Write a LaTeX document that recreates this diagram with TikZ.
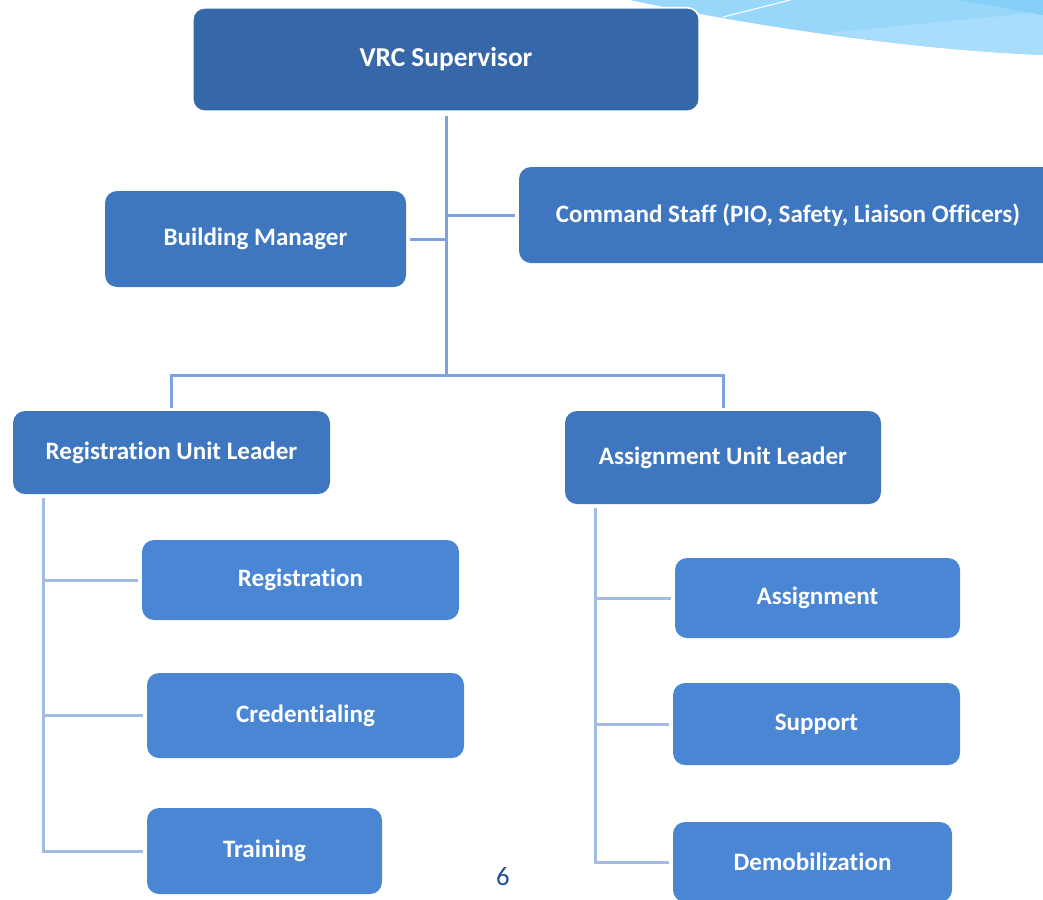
\documentclass[tikz,border=0pt]{standalone}
\usepackage{fontspec}
\setmainfont{Carlito}[Ligatures=NoCommon]
\usetikzlibrary{calc}
\definecolor{dk}{HTML}{3567A9}
\definecolor{md}{HTML}{3E76BF}
\definecolor{lt}{HTML}{4A86D4}
\definecolor{ln}{HTML}{7EA2DD}
\definecolor{lnl}{HTML}{A3BCE6}
\definecolor{sky}{HTML}{98D7FA}
\definecolor{skyl}{HTML}{A8DDFB}
\definecolor{skyd}{HTML}{84CFF8}
\definecolor{pn}{HTML}{1F4E9A}
\newcommand\bx[7]{%
  \node[box, fill=#7, minimum width={(#4-#2)*0.75pt}, minimum height={(#5-#3)*0.75pt}]
    (#1) at ({(#2+#4)/2},{(#3+#5)/2}) {#6};}
\begin{document}
\begin{tikzpicture}[x=0.75pt,y=-0.75pt,
  box/.style={rectangle, rounded corners=9pt, text=white, inner sep=0pt,
    font=\bfseries\fontsize{18.8}{22}\selectfont},
  conn/.style={draw=ln, line width=2.25pt},
  connl/.style={draw=lnl, line width=2.25pt}]
\useasboundingbox (0,0) rectangle (1043,900);
% decoration
\fill[sky] (630,0) .. controls (760,28) and (920,50) .. (1043,55) -- (1043,0) -- cycle;
\fill[skyl] (827,33) -- (1043,12) -- (1043,55) .. controls (960,51) and (890,44) .. cycle;
\fill[skyd] (960,0) -- (1043,0) -- (1043,15) -- cycle;
\draw[white, line width=0.8pt] (723,17) -- (790,0);
% boxes
\bx{sup}{193}{8}{699}{111}{\fontsize{20.5}{24}\selectfont VRC Supervisor}{dk}
\draw[white, line width=1.2pt, rounded corners=9pt] (sup.south west) rectangle (sup.north east);
\bx{bm}{105}{191}{406}{287}{Building Manager}{md}
\bx{cmd}{519}{167}{1057}{263}{Command Staff (PIO, Safety, Liaison Officers)}{md}
\bx{rul}{13}{411}{330}{494}{\raisebox{3pt}{Registration Unit Leader}}{md}
\bx{aul}{565}{411}{881}{504}{Assignment Unit Leader}{md}
\bx{reg}{142}{540}{459}{620}{Registration}{lt}
\bx{cred}{147}{673}{464}{758}{Credentialing}{lt}
\bx{trn}{147}{808}{382}{894}{Training}{lt}
\bx{asg}{675}{558}{960}{638}{Assignment}{lt}
\bx{sup2}{673}{683}{960}{765}{Support}{lt}
\bx{dem}{673}{822}{952}{902}{Demobilization}{lt}
\node[text=pn, font=\fontsize{20}{24}\selectfont] (pg) at (503,877) {6};
% connectors
\coordinate (j) at (446,375);
\draw[conn] ($(sup.south)+(0,5)$) -- (j);
\draw[conn] ($(bm.east)+(4,0)$) -- (bm.east -| j);
\draw[conn] (cmd.west -| j) -- ($(cmd.west)+(-4,0)$);
\draw[conn] ($(rul.north)+(0,-3)$) |- (j) -| ($(aul.north)+(0,-3)$);
\coordinate (L0) at (43,498);
\draw[connl] (L0) -- (L0 |- trn.west) -- ($(trn.west)+(-4,0)$);
\draw[connl] (L0 |- reg.west) -- ($(reg.west)+(-4,0)$);
\draw[connl] (L0 |- cred.west) -- ($(cred.west)+(-4,0)$);
\coordinate (R0) at (595,508);
\draw[connl] (R0) -- (R0 |- dem.west) -- ($(dem.west)+(-4,0)$);
\draw[connl] (R0 |- asg.west) -- ($(asg.west)+(-4,0)$);
\draw[connl] (R0 |- sup2.west) -- ($(sup2.west)+(-4,0)$);
\end{tikzpicture}
\end{document}
